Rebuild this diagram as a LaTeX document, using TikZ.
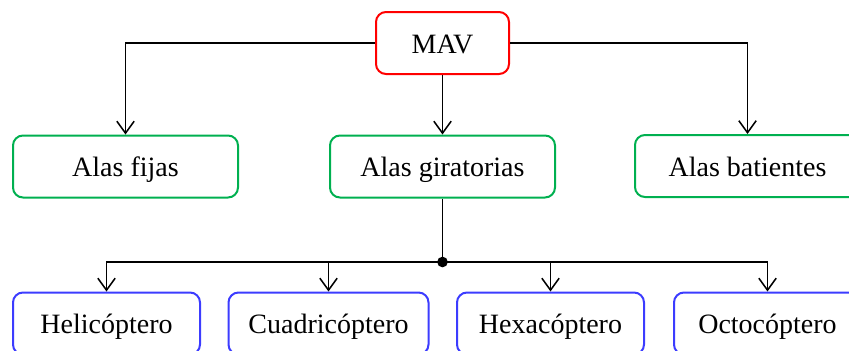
\documentclass[tikz,border=0pt]{standalone}
\usepackage{fontspec}
\setmainfont{Liberation Serif}
\usetikzlibrary{arrows.meta}
\definecolor{cred}{RGB}{255,0,0}
\definecolor{cgreen}{RGB}{0,176,80}
\definecolor{cblue}{RGB}{60,60,255}
\tikzset{
  box/.style={draw, rounded corners=7.5pt, line width=1.5pt, minimum height=46.5pt, inner sep=0pt, text height=19.5pt, text depth=4pt, font=\fontsize{21}{25}\selectfont, fill=white},
  rootbox/.style={box, draw=cred, minimum width=99.75pt},
  midbox/.style={box, draw=cgreen, minimum width=168.75pt},
  leafbox/.style={box, draw=cblue, minimum width=140.25pt},
  conn/.style={line width=1.15pt, -{Straight Barb[length=9pt,width=13pt,line width=1.15pt]}},
  plain/.style={line width=1.15pt},
  junction/.style={circle, fill, inner sep=0pt, minimum size=8pt}
}
\begin{document}
\begin{tikzpicture}[x=0.75pt,y=-0.75pt]
\useasboundingbox (0,0) rectangle (849,350);
\node[rootbox] (mav) at (442.5,43) {MAV};
\node[midbox] (fijas) at (125.5,166.5) {Alas fijas};
\node[midbox] (gir) at (442.5,166.5) {Alas giratorias};
\node[midbox] (bat) at (747.5,166) {Alas batientes};
\node[leafbox] (heli) at (106.5,323.5) {Helicóptero};
\node[leafbox, minimum width=150pt] (cuad) at (328.5,323.5) {Cuadricóptero};
\node[leafbox] (hexa) at (550.5,323.5) {Hexacóptero};
\node[leafbox] (octo) at (767.5,323.5) {Octocóptero};
\node[junction] (j) at (442.5,262) {};
\draw[conn] (mav.west) -| (fijas.north);
\draw[conn] (mav.east) -| (bat.north);
\draw[conn] (mav.south) -- (gir.north);
\draw[plain] (gir.south) -- (j.center);
\draw[conn] (j.center) -| (heli.north);
\draw[conn] (j.center) -| (cuad.north);
\draw[conn] (j.center) -| (hexa.north);
\draw[conn] (j.center) -| (octo.north);
\end{tikzpicture}
\end{document}
